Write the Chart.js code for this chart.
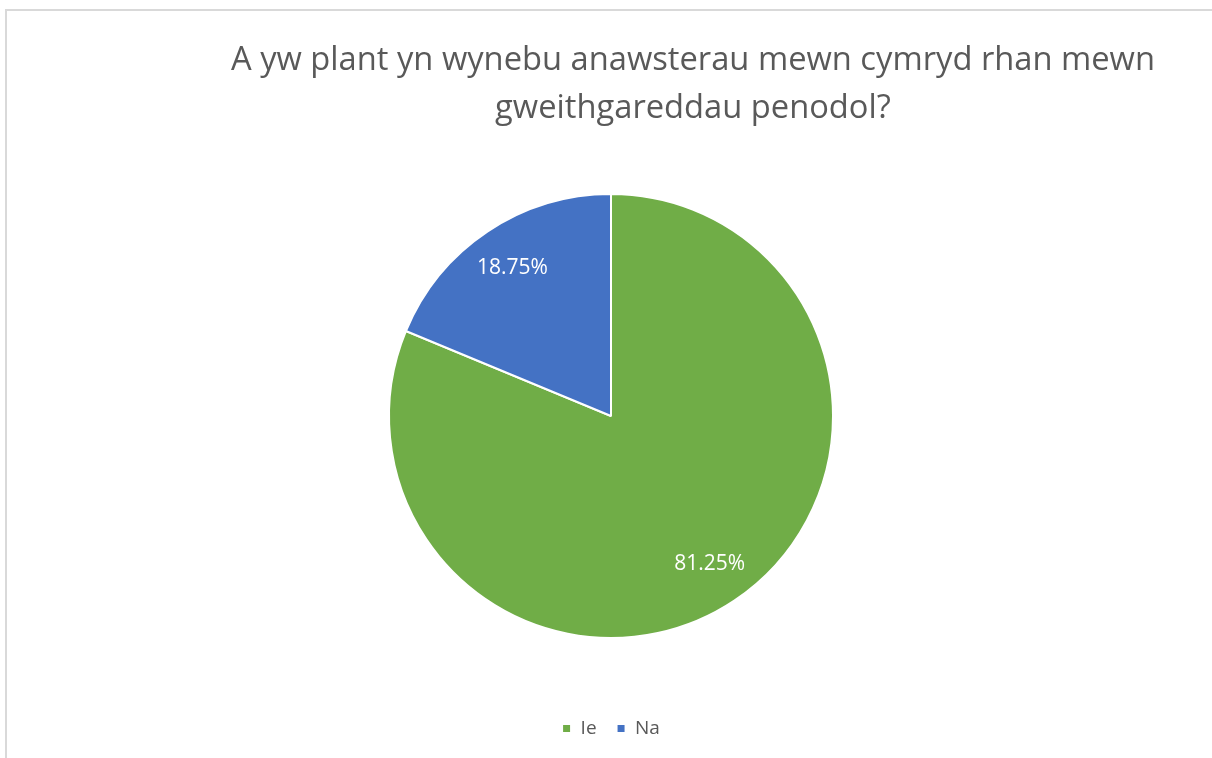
<!DOCTYPE html>
<html>
<head>
<meta charset="utf-8">
<script src="https://cdn.jsdelivr.net/npm/chart.js@4.4.1/dist/chart.umd.min.js"></script>
<style>
  html, body { margin: 0; padding: 0; background: #fff; overflow: hidden; }
  #frame {
    position: absolute; left: 5px; top: 9px; width: 1220px; height: 760px;
    border-left: 2px solid #d9d9d9; border-top: 2px solid #d9d9d9;
  }
  #wrap { position: absolute; left: 0; top: 0; width: 1212px; height: 758px; }
</style>
</head>
<body>
<div id="frame"></div>
<div id="wrap"><canvas id="pieChart"></canvas></div>
<script>
const categories = ['Ie', 'Na'];
const shares = [81.25, 18.75];
const sliceColors = ['#70ad47', '#4472c4'];
const titleLines = ['A yw plant yn wynebu anawsterau mewn cymryd rhan mewn', 'gweithgareddau penodol?'];

// title is centred a bit right of the pie, so draw it ourselves
const titlePlugin = {
  id: 'offsetTitle',
  afterDraw(chart) {
    const ctx = chart.ctx;
    ctx.save();
    ctx.fillStyle = '#595959';
    ctx.font = '32.7px "Open Sans", sans-serif';
    ctx.textAlign = 'center';
    ctx.textBaseline = 'alphabetic';
    titleLines.forEach((line, i) => {
      ctx.fillText(line, 693, 70 + i * 48);
    });
    ctx.restore();
  }
};

// percentage labels inside the slices
const sliceLabels = {
  id: 'sliceLabels',
  afterDatasetsDraw(chart) {
    const ctx = chart.ctx;
    const meta = chart.getDatasetMeta(0);
    ctx.save();
    ctx.fillStyle = '#ffffff';
    ctx.font = '21px "Open Sans", sans-serif';
    ctx.textAlign = 'center';
    ctx.textBaseline = 'middle';
    meta.data.forEach((arc, i) => {
      const p = arc.getProps(['x', 'y', 'startAngle', 'endAngle', 'outerRadius']);
      const mid = (p.startAngle + p.endAngle) / 2;
      const r = p.outerRadius * 0.8;
      ctx.fillText(shares[i].toFixed(2) + '%', p.x + Math.cos(mid) * r, p.y + Math.sin(mid) * r);
    });
    ctx.restore();
  }
};

const ctx = document.getElementById('pieChart').getContext('2d');
new Chart(ctx, {
  type: 'pie',
  data: {
    labels: categories,
    datasets: [{
      data: shares,
      backgroundColor: sliceColors,
      borderColor: '#ffffff',
      borderWidth: 2,
      radius: 222
    }]
  },
  options: {
    responsive: true,
    maintainAspectRatio: false,
    animation: false,
    layout: {
      padding: { left: 10, right: 0, top: 133, bottom: 10 }
    },
    plugins: {
      legend: {
        display: true,
        position: 'bottom',
        labels: {
          boxWidth: 9,
          boxHeight: 9,
          color: '#595959',
          font: { family: '"Open Sans", sans-serif', size: 19 },
          padding: 20
        }
      },
      tooltip: { enabled: false },
      title: { display: false }
    }
  },
  plugins: [titlePlugin, sliceLabels]
});
</script>
</body>
</html>
